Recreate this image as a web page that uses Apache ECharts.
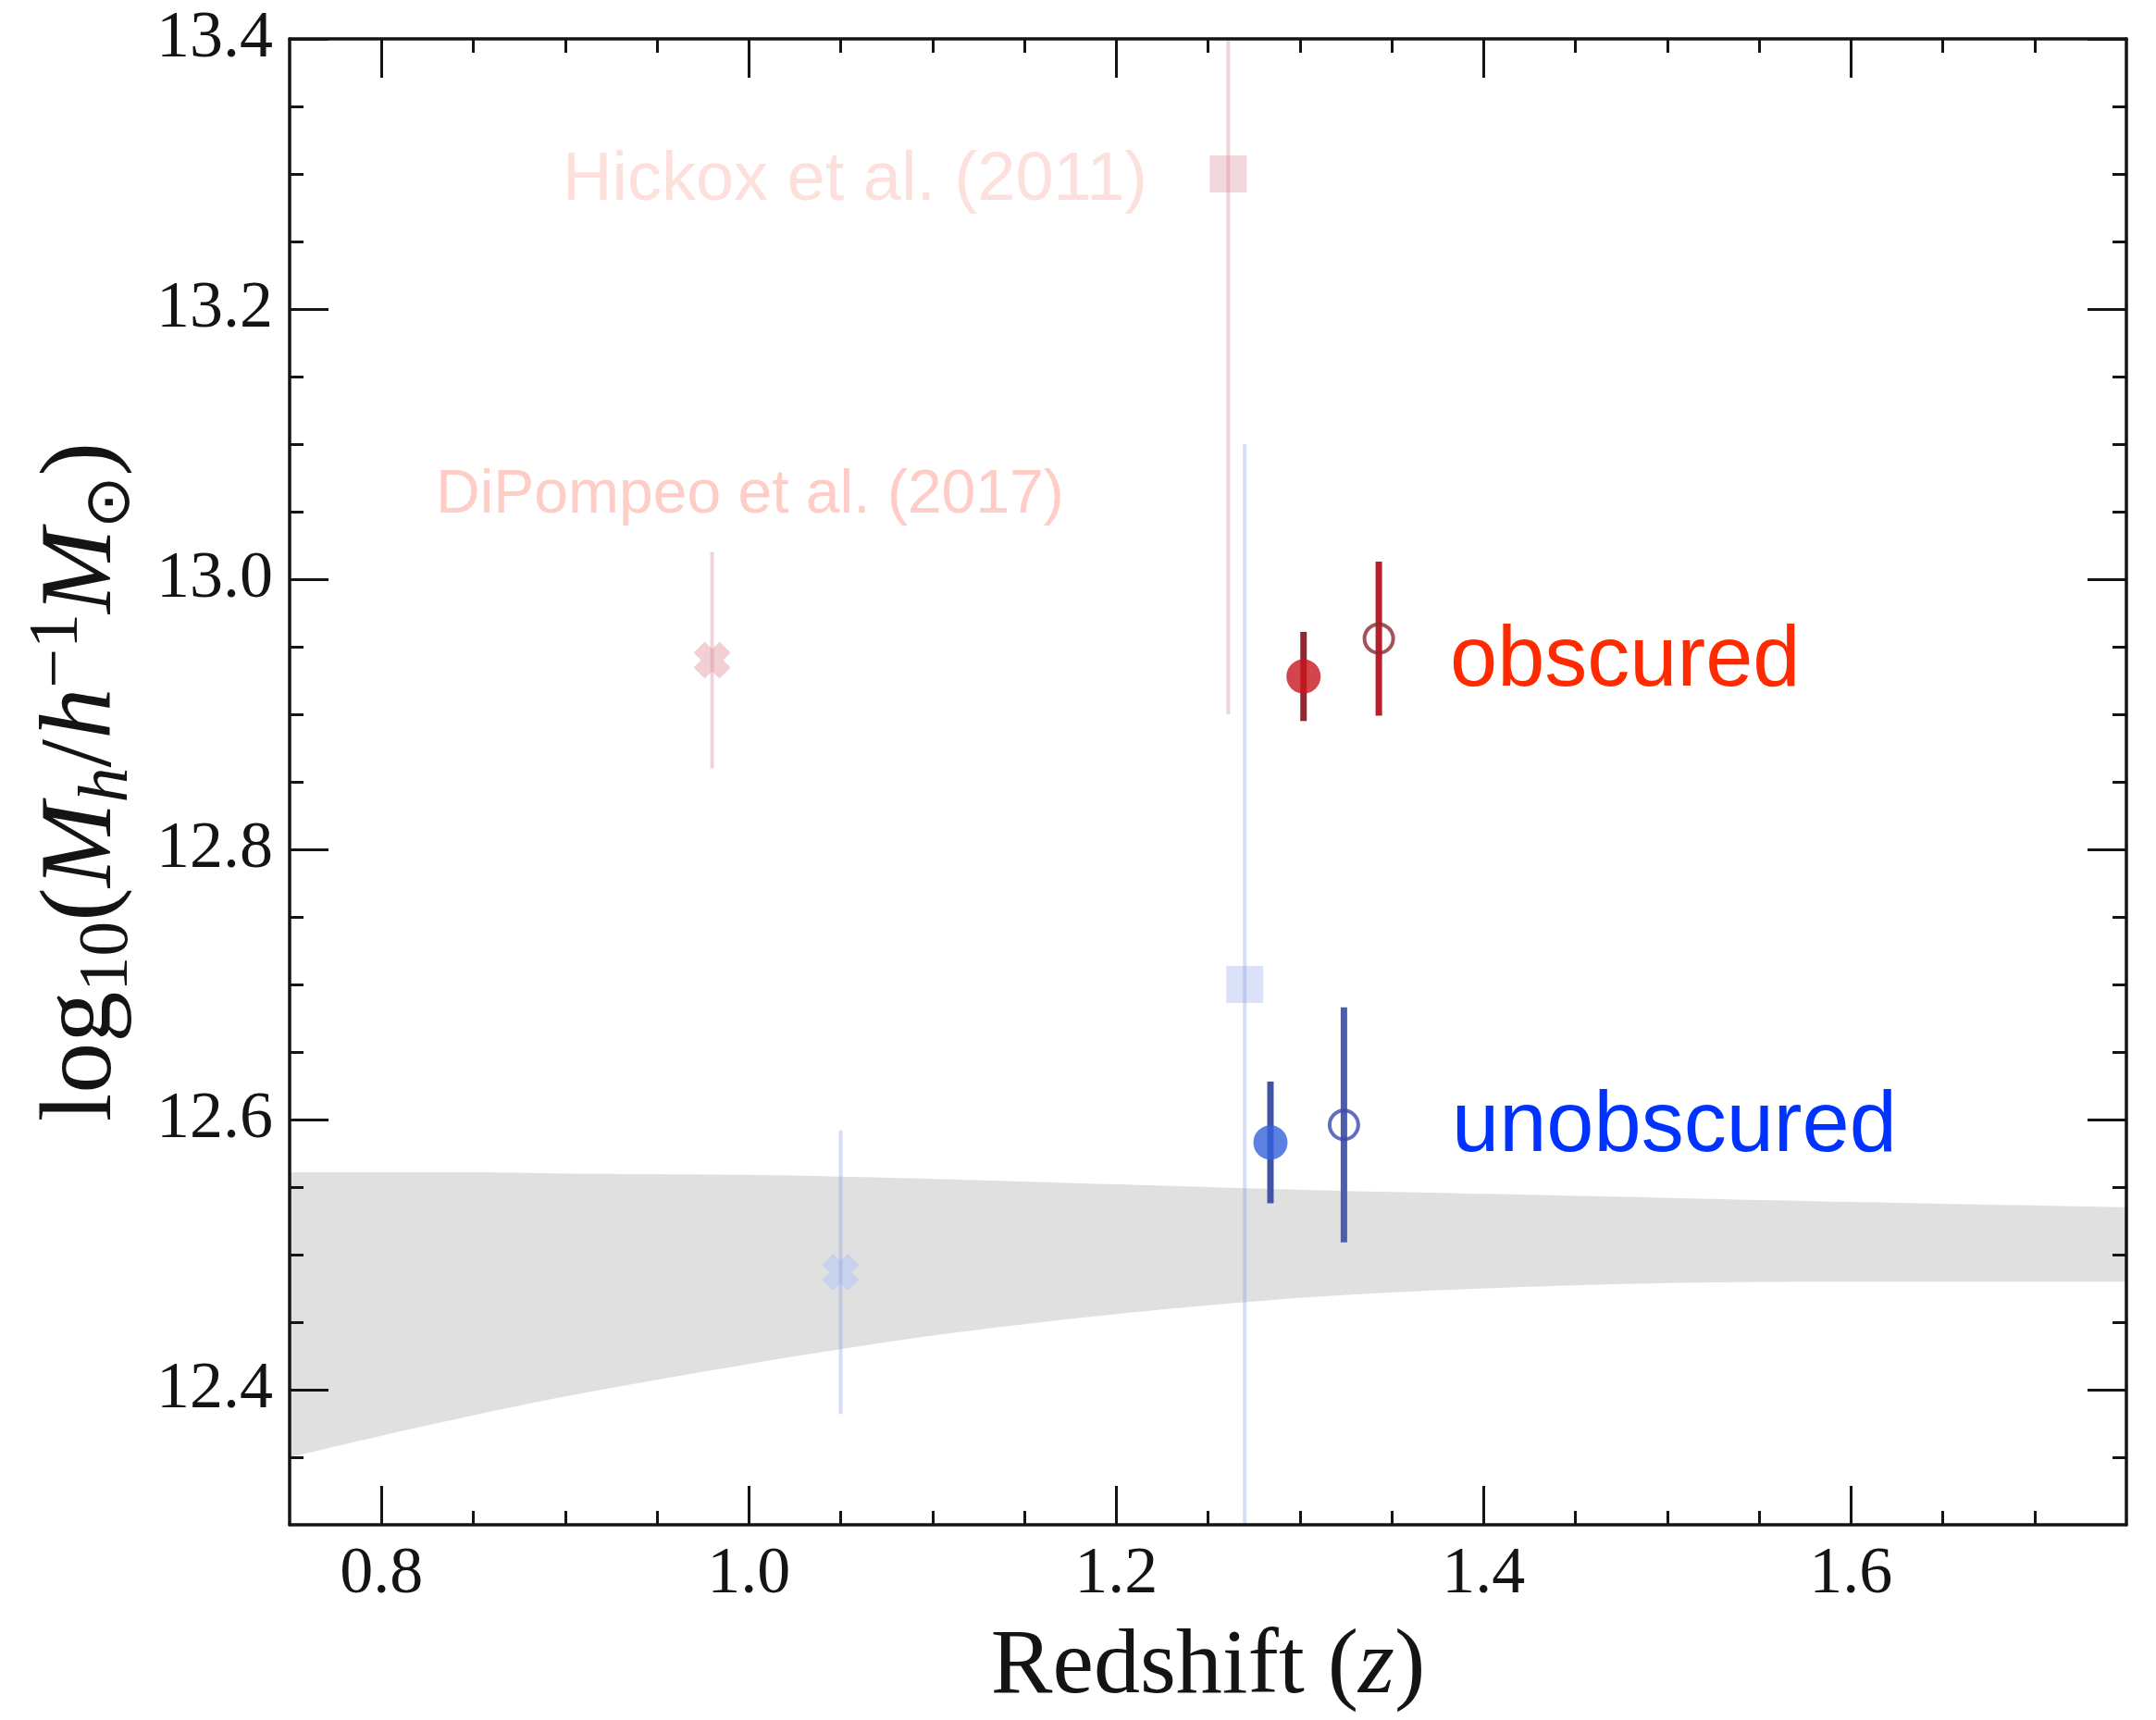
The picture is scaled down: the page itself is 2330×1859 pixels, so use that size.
<!DOCTYPE html>
<html>
<head>
<meta charset="utf-8">
<title>Halo mass versus redshift</title>
<script src="https://cdn.jsdelivr.net/npm/echarts@6/dist/echarts.min.js"></script>
<style>
  html, body { margin: 0; padding: 0; background: #ffffff; }
  #chart { width: 2330px; height: 1859px; }
</style>
</head>
<body>
<div id="chart"></div>
<script>
// Index 0 = obscured sample, index 1 = unobscured sample
const sampleNames = ['obscured', 'unobscured'];

// This work, filled circles
const filledZ = [1.302, 1.284];
const filledLogM = [12.928, 12.583];
const filledErr = [0.033, 0.045];

// This work, open circles
const openZ = [1.343, 1.324];
const openLogM = [12.956, 12.596];
const openErr = [0.057, 0.087];

// Hickox et al. (2011), squares
const hickoxZ = [1.261, 1.270];
const hickoxLogM = [13.30, 12.70];
const hickoxErr = [0.40, 0.40];

// DiPompeo et al. (2017), crosses
const dipompeoZ = [0.980, 1.050];
const dipompeoLogM = [12.940, 12.487];
const dipompeoErr = [0.080, 0.105];

// Shaded band (lower and upper edge)
const bandZ     = [0.75, 0.80, 0.85, 0.90, 1.00, 1.10, 1.20, 1.30, 1.40, 1.50, 1.60, 1.75];
const bandLower = [12.350, 12.366, 12.381, 12.395, 12.419, 12.440, 12.456, 12.468, 12.475, 12.479, 12.480, 12.480];
const bandUpper = [12.561, 12.561, 12.561, 12.560, 12.559, 12.556, 12.552, 12.548, 12.545, 12.542, 12.539, 12.535];

// Axis ticks
const xMajorTicks = [0.8, 1.0, 1.2, 1.4, 1.6];
const xMinorTicks = [0.85, 0.9, 0.95, 1.05, 1.1, 1.15, 1.25, 1.3, 1.35, 1.45, 1.5, 1.55, 1.65, 1.7];
const yMajorTicks = [12.4, 12.6, 12.8, 13.0, 13.2, 13.4];
const yMinorTicks = [12.35, 12.45, 12.5, 12.55, 12.65, 12.7, 12.75, 12.85, 12.9, 12.95,
                     13.05, 13.1, 13.15, 13.25, 13.3, 13.35];

const X_MIN = 0.75, X_MAX = 1.75, Y_MIN = 12.3, Y_MAX = 13.4;

const SERIF = '"Liberation Serif", "DejaVu Serif", serif';
const SANS = '"Liberation Sans", Arial, sans-serif';
const INK = '#141414';

// Styling per sample (obscured, unobscured)
const filledColor = ['#c8161e', '#3461dc'];
const filledBarColor = ['#952530', '#4155a8'];
const openRingColor = ['#8c2830', '#3a4ab0'];
const openBarColor = ['#b81f29', '#4a5eae'];
const hickoxFill = ['#efcdd3', '#d2dbf5'];
const dipompeoFill = ['#efc3c9', '#c3cef0'];
const fadedBarColor = ['rgba(215,130,145,0.34)', 'rgba(130,150,215,0.32)'];
const labelColor = ['#ff2a00', '#0033ff'];

const CROSS = 'path://M0,3 L3,0 L5,2 L7,0 L10,3 L8,5 L10,7 L7,10 L5,8 L3,10 L0,7 L2,5 Z';

function makeAxis(dim, position, ticks, tickLen, withLine, withLabels) {
  return {
    type: 'value',
    gridIndex: 0,
    position: position,
    min: dim === 'x' ? X_MIN : Y_MIN,
    max: dim === 'x' ? X_MAX : Y_MAX,
    z: 10,
    splitLine: { show: false },
    axisLine: { show: withLine, onZero: false, lineStyle: { color: INK, width: 3.5 } },
    axisTick: {
      show: true, inside: true, customValues: ticks, length: tickLen,
      lineStyle: { color: INK, width: 3 }
    },
    axisLabel: withLabels ? {
      show: true, customValues: ticks, margin: 18,
      formatter: function (v) { return v.toFixed(1); },
      color: INK, fontFamily: SERIF, fontSize: 72
    } : { show: false }
  };
}

function errorBarSeries(name, zs, vals, errs, colors, width, z) {
  return {
    type: 'custom',
    name: name,
    xAxisIndex: 0,
    yAxisIndex: 0,
    z: z,
    clip: true,
    silent: true,
    encode: { x: 0, y: 1 },
    data: zs.map(function (x, i) { return [x, vals[i], errs[i]]; }),
    renderItem: function (params, api) {
      const x = api.value(0), y = api.value(1), e = api.value(2);
      const lo = api.coord([x, y - e]);
      const hi = api.coord([x, y + e]);
      return {
        type: 'line',
        shape: { x1: lo[0], y1: lo[1], x2: hi[0], y2: hi[1] },
        style: { stroke: colors[params.dataIndex], lineWidth: width, lineCap: 'butt' }
      };
    }
  };
}

function markerSeries(name, zs, vals, symbol, size, styleFor, z) {
  return {
    type: 'scatter',
    name: name,
    xAxisIndex: 0,
    yAxisIndex: 0,
    z: z,
    silent: true,
    symbol: symbol,
    symbolSize: size,
    data: zs.map(function (x, i) {
      return { value: [x, vals[i]], itemStyle: styleFor(i) };
    })
  };
}

// Band edge drawn as a smooth line whose area is filled down to the bottom of the plot
function bandEdge(name, vals, fill, z) {
  return {
    type: 'line', name: name, z: z, silent: true,
    xAxisIndex: 0, yAxisIndex: 0,
    symbol: 'none', smooth: 0.3,
    lineStyle: { width: 0, color: fill },
    areaStyle: { color: fill, opacity: 1, origin: 'start' },
    data: bandZ.map(function (x, i) { return [x, vals[i]]; })
  };
}

const xAxes = [
  makeAxis('x', 'bottom', xMajorTicks, 42, true, true),
  makeAxis('x', 'bottom', xMinorTicks, 15, false, false),
  makeAxis('x', 'top', xMajorTicks, 42, true, false),
  makeAxis('x', 'top', xMinorTicks, 15, false, false)
];
xAxes[0].name = '{t|Redshift (}{i|z}{t|)}';
xAxes[0].nameLocation = 'middle';
xAxes[0].nameGap = 105;
xAxes[0].nameTextStyle = {
  color: INK,
  rich: {
    t: { fontFamily: SERIF, fontSize: 100, lineHeight: 100, color: INK },
    i: { fontFamily: SERIF, fontSize: 100, lineHeight: 100, fontStyle: 'italic', color: INK }
  }
};

const yAxes = [
  makeAxis('y', 'left', yMajorTicks, 42, true, true),
  makeAxis('y', 'left', yMinorTicks, 15, false, false),
  makeAxis('y', 'right', yMajorTicks, 42, true, false),
  makeAxis('y', 'right', yMinorTicks, 15, false, false)
];
yAxes[0].name = '{t|log}{s|10}{t|(}{i|M}{si|h}{t|/}{i|h}{p|\u22121}{i|M}{so|\u2299}{t|)}';
yAxes[0].nameLocation = 'middle';
yAxes[0].nameRotate = 90;
yAxes[0].nameGap = 158;
yAxes[0].nameTextStyle = {
  color: INK,
  rich: {
    t:  { fontFamily: SERIF, fontSize: 110, lineHeight: 130, color: INK },
    i:  { fontFamily: SERIF, fontSize: 110, lineHeight: 130, fontStyle: 'italic', color: INK },
    s:  { fontFamily: SERIF, fontSize: 76, lineHeight: 76, verticalAlign: 'bottom', color: INK },
    si: { fontFamily: SERIF, fontSize: 76, lineHeight: 76, verticalAlign: 'bottom', fontStyle: 'italic', color: INK },
    p:  { fontFamily: SERIF, fontSize: 76, lineHeight: 76, verticalAlign: 'top', color: INK },
    so: { fontFamily: '"DejaVu Sans", sans-serif', fontSize: 68, lineHeight: 72, verticalAlign: 'bottom', color: INK }
  }
};

const series = [
  // grey band between the two edges: fill under the upper edge, then blank out under the lower edge
  bandEdge('band-upper', bandUpper, '#e0e0e0', 1),
  bandEdge('band-lower', bandLower, '#ffffff', 2),

  // earlier measurements (faded)
  markerSeries('Hickox et al. (2011)', hickoxZ, hickoxLogM, 'rect', 40,
    function (i) { return { color: hickoxFill[i] }; }, 3),
  markerSeries('DiPompeo et al. (2017)', dipompeoZ, dipompeoLogM, CROSS, 40,
    function (i) { return { color: dipompeoFill[i] }; }, 3),
  errorBarSeries('Hickox et al. (2011) errors', hickoxZ, hickoxLogM, hickoxErr, fadedBarColor, 4, 4),
  errorBarSeries('DiPompeo et al. (2017) errors', dipompeoZ, dipompeoLogM, dipompeoErr, fadedBarColor, 4, 4),

  // this work
  errorBarSeries('filled errors', filledZ, filledLogM, filledErr, filledBarColor, 7, 5),
  errorBarSeries('open errors', openZ, openLogM, openErr, openBarColor, 7, 5),
  markerSeries('filled', filledZ, filledLogM, 'circle', 37,
    function (i) { return { color: filledColor[i] }; }, 6),
  markerSeries('open', openZ, openLogM, 'circle', 31,
    function (i) { return { color: 'rgba(255,255,255,0)', borderColor: openRingColor[i], borderWidth: 4 }; }, 6)
];

// text annotations
function annotation(text, x, y, size, color) {
  return {
    type: 'text', x: x, y: y, z: 20, silent: true,
    style: {
      text: text, fill: color, fontFamily: SANS, fontSize: size,
      textAlign: 'left', textVerticalAlign: 'middle', verticalAlign: 'middle'
    }
  };
}

const option = {
  backgroundColor: '#ffffff',
  animation: false,
  grid: { left: 313, top: 42, width: 1985, height: 1606, containLabel: false, outerBoundsMode: 'none' },
  xAxis: xAxes,
  yAxis: yAxes,
  series: series,
  graphic: [
    annotation('Hickox et al. (2011)', 608, 196, 74, '#fde0dc'),
    annotation('DiPompeo et al. (2017)', 471, 536, 66, '#fdcdc6'),
    annotation(sampleNames[0], 1567, 716, 92, labelColor[0]),
    annotation(sampleNames[1], 1569, 1219, 92, labelColor[1])
  ]
};

const chart = echarts.init(document.getElementById('chart'), null, { renderer: 'canvas' });
chart.setOption(option);
</script>
</body>
</html>
